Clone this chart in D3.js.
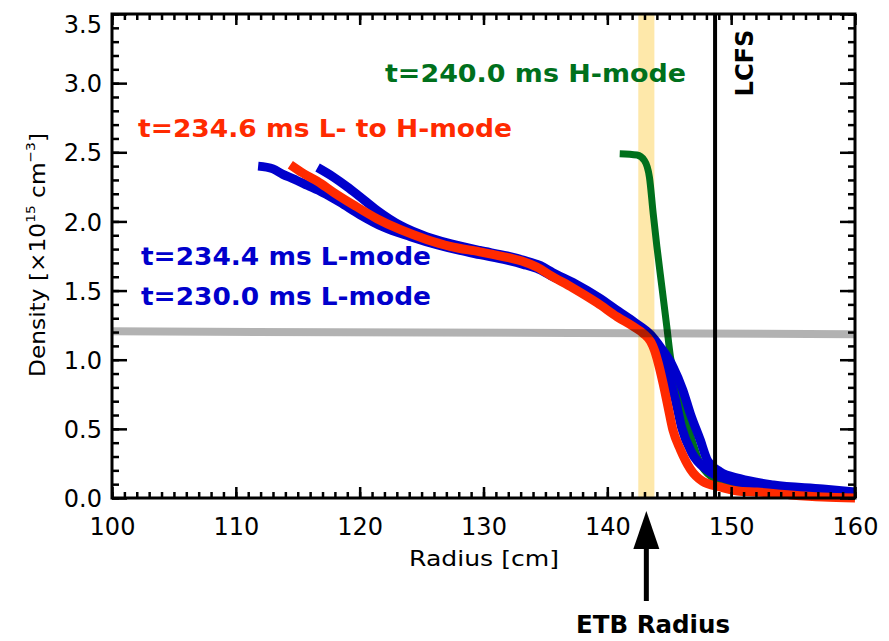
<!DOCTYPE html>
<html>
<head>
<meta charset="utf-8">
<script src="https://cdn.jsdelivr.net/npm/d3@7"></script>
<style>
  body { margin: 0; background: #fff; }
  text { font-family: "DejaVu Sans", sans-serif; }
</style>
</head>
<body>
<svg id="chart" width="889" height="641"></svg>
<script>
// ---- data ----
const xTicks = [100, 110, 120, 130, 140, 150, 160];
const yTicks = [0, 0.5, 1.0, 1.5, 2.0, 2.5, 3.0, 3.5];

// [radius cm, density 1e13 cm^-3]
const lmode230 = [[111.8,2.40],[113.0,2.38],[113.8,2.34],[114.6,2.31],[115.8,2.26],[117.0,2.21],[118.4,2.14],
  [120.0,2.05],[121.9,1.96],[124.1,1.89],[126.3,1.83],[128.1,1.79],[129.7,1.76],[131.9,1.72],[133.2,1.69],
  [134.3,1.66],[135.4,1.61],[137.2,1.53],[139.2,1.42],[140.8,1.32],[142.1,1.25],[143.1,1.19],[143.6,1.14],
  [144.0,1.09],[144.8,0.93],[145.5,0.71],[146.0,0.51],[146.8,0.33],[148.1,0.20],[149.9,0.13],[152.1,0.094],
  [156.1,0.065],[160.0,0.03]];
const lmode234 = [[116.6,2.39],[117.9,2.32],[119.0,2.25],[120.0,2.18],[121.4,2.08],[123.3,1.97],[125.4,1.89],
  [127.3,1.84],[129.7,1.79],[131.9,1.75],[133.2,1.72],[134.6,1.68],[135.6,1.63],[137.4,1.55],[139.3,1.45],
  [140.9,1.35],[142.2,1.27],[143.5,1.18],[144.3,1.09],[145.3,0.95],[146.1,0.78],[146.7,0.61],[147.5,0.42],
  [148.1,0.27],[149.1,0.19],[150.7,0.14],[153.4,0.094],[157.4,0.065],[160.0,0.043]];
const lhTrans = [[114.4,2.41],[115.4,2.35],[116.6,2.29],[117.9,2.21],[119.5,2.12],[121.4,2.02],[123.3,1.94],
  [125.4,1.87],[127.3,1.82],[129.7,1.78],[131.9,1.74],[133.2,1.71],[134.3,1.67],[135.4,1.61],[137.2,1.52],
  [139.2,1.41],[140.8,1.31],[142.1,1.24],[142.9,1.19],[143.5,1.13],[143.8,1.07],[144.1,0.98],[144.5,0.83],
  [144.9,0.66],[145.3,0.49],[145.9,0.35],[146.7,0.21],[147.7,0.12],[149.1,0.08],[150.5,0.051],[152.1,0.043],
  [154.8,0.022],[157.4,0.007],[160.0,0.0]];
const hmode240 = [[141.0,2.49],[142.4,2.48],[143.0,2.44],[143.4,2.32],[143.7,2.06],[144.0,1.82],[144.4,1.53],
  [144.8,1.24],[145.1,1.02],[145.5,0.87],[146.0,0.67],[146.7,0.46],[147.5,0.25],[148.5,0.145],[149.9,0.087],
  [152.3,0.058],[156.4,0.036],[160.0,0.02]];

const etbBand = [142.5, 143.8];   // shaded ETB region
const etbRadius = 143.15;         // arrow position
const lcfsRadius = 148.7;         // last closed flux surface
const thresholdR = [100, 160];
const thresholdN = [1.205, 1.185];

const labels = [
  { text: 't=240.0 ms H-mode', color: '#00701c', x: 385, y: 82, len: 301 },
  { text: 't=234.6 ms L- to H-mode', color: '#ff2a00', x: 138, y: 137, len: 374 },
  { text: 't=234.4 ms L-mode', color: '#0000cc', x: 141, y: 265, len: 290 },
  { text: 't=230.0 ms L-mode', color: '#0000cc', x: 141, y: 305, len: 290 }
];

// ---- layout ----
const svg = d3.select('#chart');
const m = { left: 112, right: 855, top: 14, bottom: 498 };

const x = d3.scaleLinear().domain([100, 160]).range([m.left, m.right]);
const y = d3.scaleLinear().domain([0, 3.5]).range([m.bottom, m.top]);

// ETB shaded band
svg.append('rect')
  .attr('x', x(etbBand[0]))
  .attr('y', m.top)
  .attr('width', x(etbBand[1]) - x(etbBand[0]))
  .attr('height', m.bottom - m.top)
  .attr('fill', '#fee8aa');

const line = d3.line()
  .x(d => x(d[0]))
  .y(d => y(d[1]))
  .curve(d3.curveMonotoneX);

// profiles, green under blue under red
[[hmode240, '#00701c', 7], [lmode230, '#0000cc', 9], [lmode234, '#0000cc', 9], [lhTrans, '#ff2a00', 9]]
  .forEach(([data, color, w]) => {
    svg.append('path')
      .datum(data)
      .attr('d', line)
      .attr('fill', 'none')
      .attr('stroke', color)
      .attr('stroke-width', w)
      .attr('stroke-linejoin', 'round');
  });

// LCFS
svg.append('line')
  .attr('x1', x(lcfsRadius)).attr('x2', x(lcfsRadius))
  .attr('y1', m.top).attr('y2', m.bottom)
  .attr('stroke', '#000')
  .attr('stroke-width', 4);

// threshold line (semi-transparent gray)
svg.append('line')
  .attr('x1', x(thresholdR[0])).attr('x2', x(thresholdR[1]))
  .attr('y1', y(thresholdN[0])).attr('y2', y(thresholdN[1]))
  .attr('stroke', '#000')
  .attr('stroke-opacity', 0.3)
  .attr('stroke-width', 8);

// ---- axes ----
const xMinor = d3.range(100, 161, 1);
const yMinor = d3.range(0, 36).map(i => i / 10);

function styleAxis(g) {
  g.select('.domain').remove();
  g.selectAll('.tick line').attr('stroke', '#000').attr('stroke-width', 2.5);
}

// bottom
svg.append('g').attr('transform', `translate(0,${m.bottom})`)
  .call(d3.axisBottom(x).tickValues(xMinor).tickSize(-6).tickFormat(''))
  .call(styleAxis);
svg.append('g').attr('transform', `translate(0,${m.bottom})`)
  .call(d3.axisBottom(x).tickValues(xTicks).tickSize(-11).tickPadding(20).tickFormat(d3.format('d')))
  .call(styleAxis)
  .selectAll('text')
  .attr('font-size', 24)
  .attr('fill', '#000');

// top
svg.append('g').attr('transform', `translate(0,${m.top})`)
  .call(d3.axisTop(x).tickValues(xMinor).tickSize(-6).tickFormat(''))
  .call(styleAxis);
svg.append('g').attr('transform', `translate(0,${m.top})`)
  .call(d3.axisTop(x).tickValues(xTicks).tickSize(-11).tickFormat(''))
  .call(styleAxis);

// left
svg.append('g').attr('transform', `translate(${m.left},0)`)
  .call(d3.axisLeft(y).tickValues(yMinor).tickSize(-7).tickFormat(''))
  .call(styleAxis);
svg.append('g').attr('transform', `translate(${m.left},0)`)
  .call(d3.axisLeft(y).tickValues(yTicks).tickSize(-15).tickPadding(10).tickFormat(d3.format('.1f')))
  .call(styleAxis)
  .selectAll('text')
  .attr('font-size', 24)
  .attr('fill', '#000')
  .attr('dy', d => d === 3.5 ? '0.75em' : '0.36em');

// right
svg.append('g').attr('transform', `translate(${m.right},0)`)
  .call(d3.axisRight(y).tickValues(yMinor).tickSize(-7).tickFormat(''))
  .call(styleAxis);
svg.append('g').attr('transform', `translate(${m.right},0)`)
  .call(d3.axisRight(y).tickValues(yTicks).tickSize(-15).tickFormat(''))
  .call(styleAxis);

// frame
svg.append('rect')
  .attr('x', m.left).attr('y', m.top)
  .attr('width', m.right - m.left).attr('height', m.bottom - m.top)
  .attr('fill', 'none')
  .attr('stroke', '#000')
  .attr('stroke-width', 3);

// ---- titles ----
svg.append('text')
  .attr('x', 484).attr('y', 566)
  .attr('text-anchor', 'middle')
  .attr('font-size', 21)
  .attr('textLength', 150)
  .attr('lengthAdjust', 'spacingAndGlyphs')
  .text('Radius [cm]');

const ylab = svg.append('text')
  .attr('transform', 'translate(45,255) rotate(-90)')
  .attr('text-anchor', 'middle')
  .attr('font-size', 22)
  .attr('textLength', 244)
  .attr('lengthAdjust', 'spacingAndGlyphs');
ylab.append('tspan').text('Density [×10');
ylab.append('tspan').attr('font-size', 13).attr('dy', -10).text('15');
ylab.append('tspan').attr('dy', 10).text(' cm');
ylab.append('tspan').attr('font-size', 13).attr('dy', -10).text('−3');
ylab.append('tspan').attr('dy', 10).text(']');

// legend labels
labels.forEach(l => {
  svg.append('text')
    .attr('x', l.x).attr('y', l.y)
    .attr('font-size', 25)
    .attr('font-weight', 'bold')
    .attr('fill', l.color)
    .attr('textLength', l.len)
    .attr('lengthAdjust', 'spacingAndGlyphs')
    .text(l.text);
});

// LCFS label
svg.append('text')
  .attr('transform', 'translate(753,63) rotate(-90)')
  .attr('text-anchor', 'middle')
  .attr('font-size', 25)
  .attr('font-weight', 'bold')
  .attr('textLength', 67)
  .attr('lengthAdjust', 'spacingAndGlyphs')
  .text('LCFS');

// ETB arrow
const ax = x(etbRadius);
svg.append('path')
  .attr('d', `M${ax},511 L${ax - 13},549 L${ax + 13},549 Z`)
  .attr('fill', '#000');
svg.append('line')
  .attr('x1', ax).attr('x2', ax)
  .attr('y1', 545).attr('y2', 601)
  .attr('stroke', '#000')
  .attr('stroke-width', 5);

svg.append('text')
  .attr('x', 653).attr('y', 633)
  .attr('text-anchor', 'middle')
  .attr('font-size', 24)
  .attr('font-weight', 'bold')
  .attr('textLength', 154)
  .attr('lengthAdjust', 'spacingAndGlyphs')
  .text('ETB Radius');
</script>
</body>
</html>
